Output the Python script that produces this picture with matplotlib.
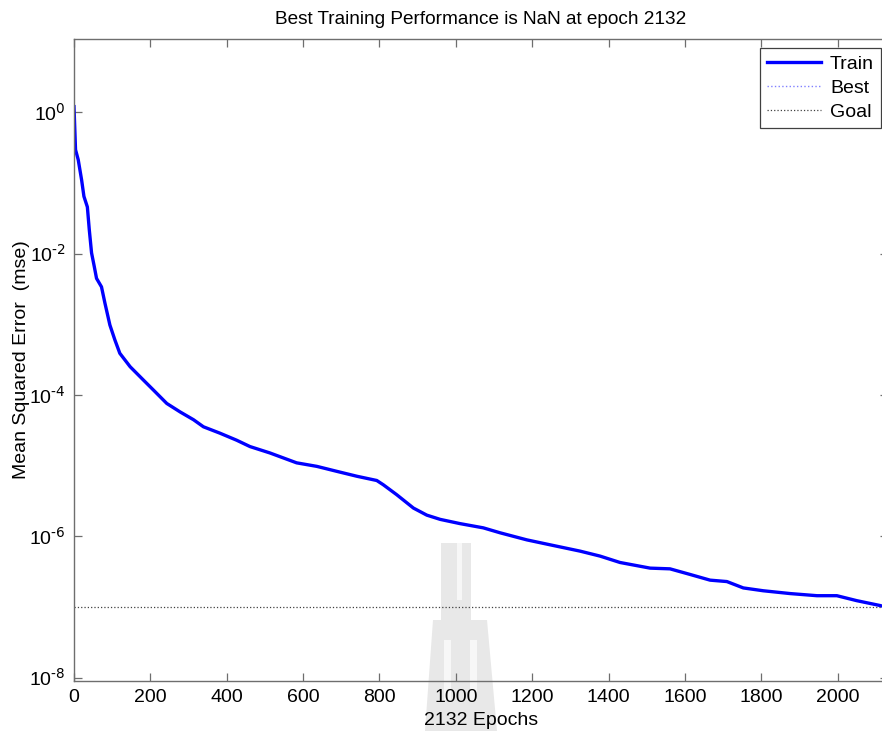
import numpy as np
import matplotlib
matplotlib.use("Agg")
import matplotlib.pyplot as plt
from matplotlib.patches import Polygon, Rectangle
from matplotlib.ticker import FixedLocator, NullLocator, FuncFormatter

plt.rcParams['font.family'] = ['Liberation Sans', 'DejaVu Sans']
plt.rcParams['axes.unicode_minus'] = False

# training record (epoch, log10 of mse)
epochs = [0, 4, 11, 20, 26, 35, 40, 46, 53, 59, 72, 81, 94, 107, 120, 147, 182,
          208, 243, 278, 313, 339, 382, 426, 461, 513, 583, 636, 688, 741, 793,
          810, 845, 889, 924, 959, 1011, 1072, 1116, 1186, 1247, 1326, 1378,
          1430, 1509, 1561, 1614, 1666, 1710, 1753, 1805, 1876, 1946, 1998,
          2050, 2112, 2132]
train_log10 = [0.08, -0.53, -0.67, -0.96, -1.19, -1.34, -1.66, -1.99, -2.18,
               -2.35, -2.47, -2.70, -3.01, -3.22, -3.41, -3.60, -3.79, -3.93,
               -4.12, -4.24, -4.35, -4.45, -4.54, -4.64, -4.73, -4.82, -4.96,
               -5.01, -5.08, -5.15, -5.21, -5.27, -5.41, -5.60, -5.70, -5.76,
               -5.82, -5.88, -5.95, -6.05, -6.12, -6.21, -6.28, -6.37, -6.45,
               -6.46, -6.54, -6.62, -6.64, -6.73, -6.77, -6.81, -6.84, -6.84,
               -6.91, -6.98, -7.01]
goal = 1e-7
n_epochs = 2132
y_ticks = [1e-8, 1e-6, 1e-4, 1e-2, 1e0]
x_ticks = [0, 200, 400, 600, 800, 1000, 1200, 1400, 1600, 1800, 2000]

train_mse = 10.0 ** np.array(train_log10)

W, H = 882, 731
fig = plt.figure(figsize=(W / 100, H / 100), dpi=100)
fig.patch.set_facecolor('white')

def px(x, y):
    return (x / W, 1 - y / H)

# faint logo behind the axes
gray = '#e8e8e8'
outline = [(441, 543), (471, 543), (471, 620), (487, 620), (497, 731),
           (425, 731), (433, 620), (441, 620)]
fig.add_artist(Polygon([px(*p) for p in outline], closed=True,
                       transform=fig.transFigure, facecolor=gray,
                       edgecolor='none', zorder=0))
for x0, y0, x1, y1 in [(457, 543, 462, 600), (444, 640, 451, 700),
                       (470, 640, 477, 700)]:
    a = px(x0, y1)
    fig.add_artist(Rectangle(a, (x1 - x0) / W, (y1 - y0) / H,
                             transform=fig.transFigure, facecolor='#f7f7f7',
                             edgecolor='none', zorder=0.1))

left, right, top, bottom = 74, 888, 39, 681
ax = fig.add_axes([left / W, 1 - bottom / H, (right - left) / W, (bottom - top) / H])
ax.set_facecolor('none')
ax.set_zorder(1)

ax.semilogy(epochs, train_mse, color='#0000ff', linewidth=2.4, label='Train')
ax.plot([], [], ':', color='#8080ff', linewidth=1.0, label='Best')
ax.plot([0, n_epochs], [goal, goal], ':', color='#404040', linewidth=0.9,
        label='Goal')

ax.set_xlim(0, n_epochs)
ax.set_ylim(10 ** -8.047, 10 ** 1.037)
ax.xaxis.set_major_locator(FixedLocator(x_ticks))
ax.yaxis.set_major_locator(FixedLocator(y_ticks))
ax.yaxis.set_major_formatter(FuncFormatter(
    lambda v, pos: r'$\mathdefault{10^{\text{%d}}}$' % round(np.log10(v))))
ax.yaxis.set_minor_locator(NullLocator())

for s in ax.spines.values():
    s.set_color('#6e6e6e')
    s.set_linewidth(1.0)
ax.tick_params(which='both', direction='in', top=True, right=True,
               length=6, width=0.9, color='#6e6e6e', labelsize=14,
               labelcolor='black', pad=6)

ax.set_title('Best Training Performance is NaN at epoch 2132', fontsize=13.7, pad=11)
ax.set_xlabel('2132 Epochs', fontsize=14, labelpad=4)
ax.set_ylabel('Mean Squared Error  (mse)', fontsize=14, labelpad=-1)

leg = ax.legend(loc='upper right', bbox_to_anchor=(881 / W, 1 - 48 / H),
                bbox_transform=fig.transFigure, fontsize=14, fancybox=False,
                framealpha=1, edgecolor='#404040', handlelength=2.8,
                borderaxespad=0, labelspacing=0.33, borderpad=0.36,
                handletextpad=0.45)
leg.get_frame().set_linewidth(0.9)

fig.savefig('out.png', dpi=100, facecolor='white')
